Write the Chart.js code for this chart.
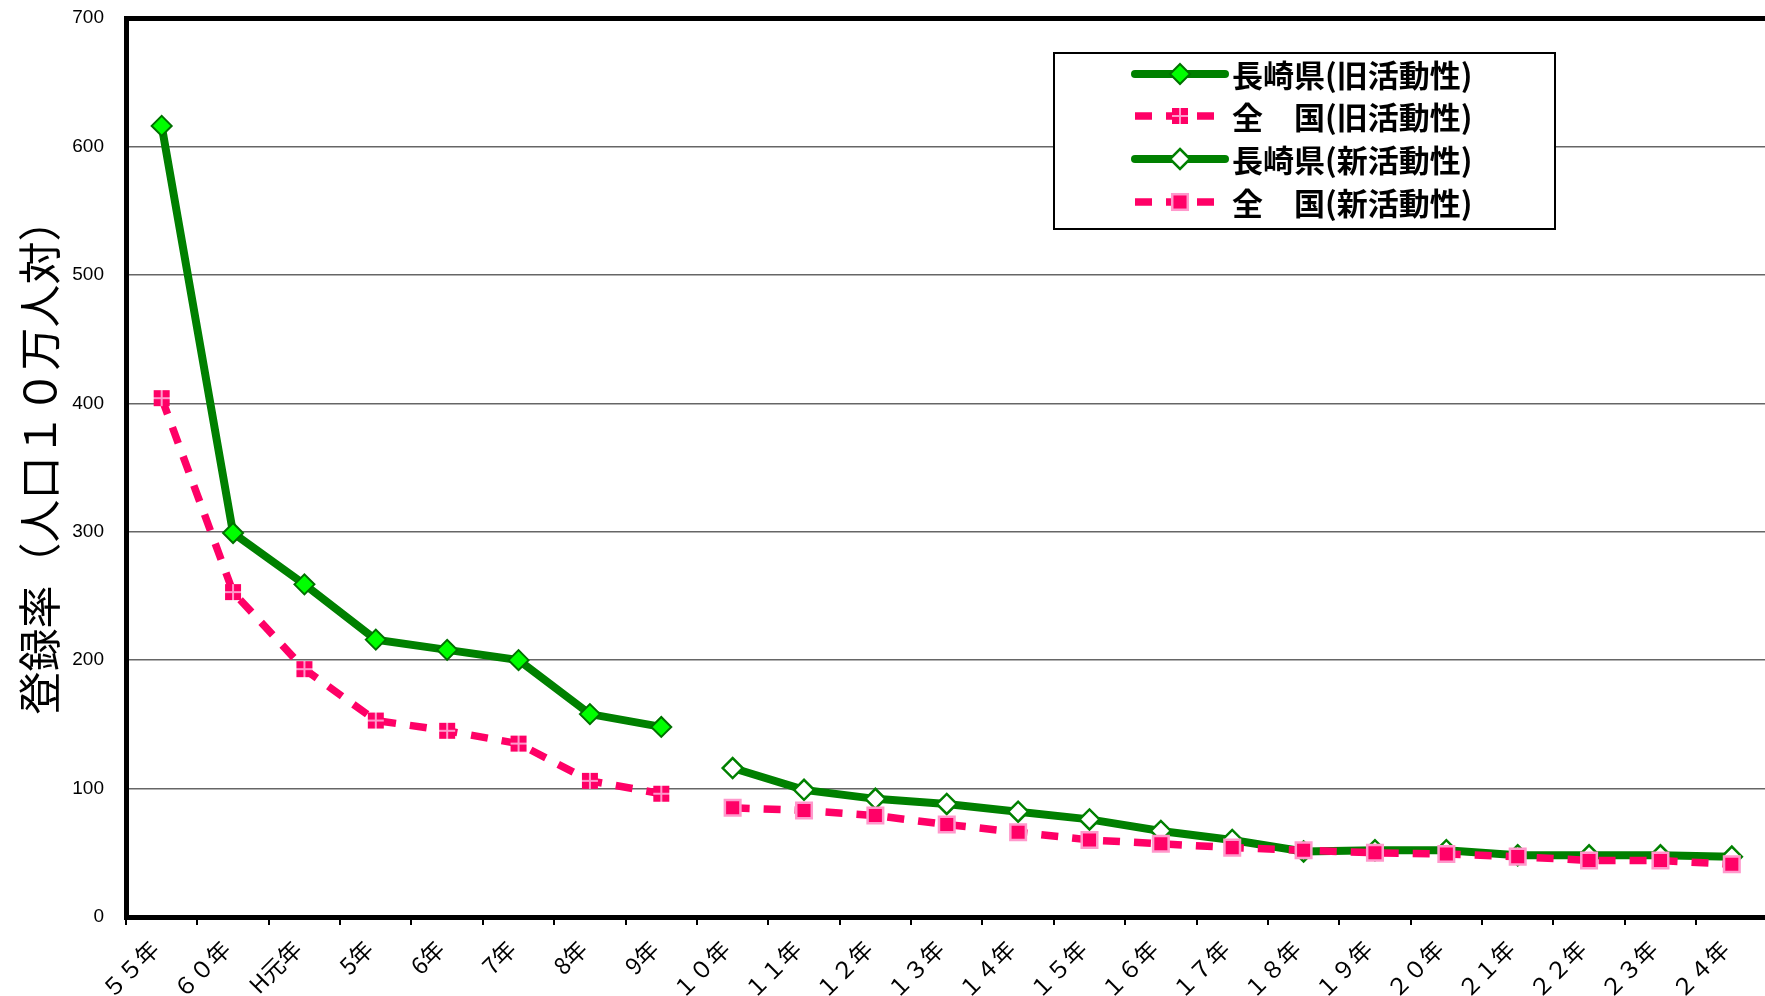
<!DOCTYPE html>
<html>
<head>
<meta charset="utf-8">
<script src="https://cdn.jsdelivr.net/npm/chart.js@4/dist/chart.umd.min.js"></script>
<style>
  html, body { margin: 0; padding: 0; background: #fff; overflow: hidden; }
  #wrap { width: 1784px; height: 996px; }
</style>
</head>
<body>
<div id="wrap"><canvas id="chart"></canvas></div>
<script>
// 年次ラベル
const years = ['５５年', '６０年', 'H元年', '5年', '6年', '7年', '8年', '9年',
  '１０年', '１１年', '１２年', '１３年', '１４年', '１５年', '１６年', '１７年',
  '１８年', '１９年', '２０年', '２１年', '２２年', '２３年', '２４年'];

// 旧活動性（55年〜9年）
const nagasakiOld = [616, 299, 259, 216, 208, 200, 158, 148,
  null, null, null, null, null, null, null, null, null, null, null, null, null, null, null];
const zenkokuOld = [404, 253, 193, 153, 145, 135, 106, 96,
  null, null, null, null, null, null, null, null, null, null, null, null, null, null, null];

// 新活動性（10年〜24年）
const nagasakiNew = [null, null, null, null, null, null, null, null,
  116, 99, 92, 88, 82, 76, 67, 60, 51, 52, 52, 48, 48, 48, 47];
const zenkokuNew = [null, null, null, null, null, null, null, null,
  85, 83, 79, 72, 66, 60, 57, 54, 52, 50, 49, 47, 44, 44, 41];

const yTicks = [0, 100, 200, 300, 400, 500, 600, 700];
const yTitle = '登録率（人口１０万人対）';

const GREEN = '#008000';
const PINK = '#ff0066';
const LIGHT_PINK = '#ff99cc';

// 田の字の四角マーカー（全国・旧）
function makeCrossSquare() {
  const c = document.createElement('canvas');
  c.width = 18; c.height = 18;
  const g = c.getContext('2d');
  g.fillStyle = PINK;
  g.fillRect(1, 1, 16, 16);
  g.fillStyle = LIGHT_PINK;
  g.fillRect(8, 1, 2, 16);
  g.fillRect(1, 8, 16, 2);
  return c;
}
const crossSquare = makeCrossSquare();

// 縦軸タイトル（縦書き回転）
const axisTitle = {
  id: 'axisTitle',
  afterDraw(chart) {
    const ctx = chart.ctx;
    const a = chart.chartArea;
    ctx.save();
    ctx.translate(40, (a.top + a.bottom) / 2 - 11);
    ctx.rotate(-Math.PI / 2);
    ctx.fillStyle = '#000';
    ctx.font = '43px "Noto Sans CJK JP"';
    ctx.textAlign = 'center';
    ctx.textBaseline = 'middle';
    ctx.fillText(yTitle, 0, 0);
    ctx.restore();
  }
};

// 凡例（枠内に手描き）
const boxLegend = {
  id: 'boxLegend',
  afterDraw(chart) {
    const ctx = chart.ctx;
    const bx = 1054, by = 53, bw = 501, bh = 176;
    ctx.save();
    ctx.fillStyle = '#fff';
    ctx.fillRect(bx, by, bw, bh);
    ctx.strokeStyle = '#000';
    ctx.lineWidth = 2;
    ctx.strokeRect(bx, by, bw, bh);

    const rows = [74, 116, 159, 202];
    const x1 = 1135, x2 = 1225, mx = 1180;
    chart.data.datasets.forEach((ds, i) => {
      const y = rows[i];
      ctx.save();
      ctx.strokeStyle = ds.borderColor;
      ctx.lineWidth = ds.borderWidth;
      ctx.lineCap = ds.borderDash ? 'butt' : 'round';
      ctx.setLineDash(ds.borderDash || []);
      ctx.beginPath();
      ctx.moveTo(x1, y);
      ctx.lineTo(x2, y);
      ctx.stroke();
      ctx.restore();

      if (ds.pointStyle === 'rectRot') {
        const r = ds.pointRadius;
        ctx.beginPath();
        ctx.moveTo(mx, y - r); ctx.lineTo(mx + r, y);
        ctx.lineTo(mx, y + r); ctx.lineTo(mx - r, y);
        ctx.closePath();
        ctx.fillStyle = ds.pointBackgroundColor;
        ctx.fill();
        ctx.lineWidth = ds.pointBorderWidth;
        ctx.strokeStyle = ds.pointBorderColor;
        ctx.stroke();
      } else if (ds.pointStyle === 'rect') {
        const s = ds.pointRadius * Math.SQRT1_2;
        ctx.fillStyle = ds.pointBackgroundColor;
        ctx.fillRect(mx - s, y - s, 2 * s, 2 * s);
        ctx.lineWidth = ds.pointBorderWidth;
        ctx.strokeStyle = ds.pointBorderColor;
        ctx.strokeRect(mx - s, y - s, 2 * s, 2 * s);
      } else {
        ctx.drawImage(ds.pointStyle, mx - 9, y - 9);
      }

      ctx.fillStyle = '#000';
      ctx.font = 'bold 31px "Noto Sans CJK JP"';
      ctx.textBaseline = 'middle';
      ctx.textAlign = 'left';
      ctx.fillText(ds.label, 1232, y + 1);
    });
    ctx.restore();
  }
};

const ctx = document.getElementById('chart').getContext('2d');
new Chart(ctx, {
  type: 'line',
  data: {
    labels: years,
    datasets: [
      {
        label: '長崎県(旧活動性)',
        data: nagasakiOld,
        borderColor: GREEN,
        borderWidth: 8,
        pointStyle: 'rectRot',
        pointRadius: 10,
        pointBackgroundColor: '#00ff00',
        pointBorderColor: '#007000',
        pointBorderWidth: 2,
        order: 1
      },
      {
        label: '全　国(旧活動性)',
        data: zenkokuOld,
        borderColor: PINK,
        borderWidth: 7.5,
        borderDash: [17, 14],
        pointStyle: crossSquare,
        pointRadius: 9,
        order: 0
      },
      {
        label: '長崎県(新活動性)',
        data: nagasakiNew,
        borderColor: GREEN,
        borderWidth: 8,
        pointStyle: 'rectRot',
        pointRadius: 10,
        pointBackgroundColor: '#ffffff',
        pointBorderColor: GREEN,
        pointBorderWidth: 2.5,
        order: 1
      },
      {
        label: '全　国(新活動性)',
        data: zenkokuNew,
        borderColor: PINK,
        borderWidth: 7.5,
        borderDash: [17, 14],
        pointStyle: 'rect',
        pointRadius: 11,
        pointBackgroundColor: PINK,
        pointBorderColor: LIGHT_PINK,
        pointBorderWidth: 2.5,
        order: 0
      }
    ]
  },
  options: {
    responsive: true,
    maintainAspectRatio: false,
    animation: false,
    spanGaps: false,
    layout: { padding: { top: 18, right: 7, left: 0, bottom: 0 } },
    plugins: {
      legend: { display: false },
      tooltip: { enabled: false }
    },
    scales: {
      x: {
        offset: true,
        afterFit: (scale) => {
          scale.height = 79;
          scale.paddingLeft = 0; scale.paddingRight = 0;
          scale.paddingTop = 0; scale.paddingBottom = 0;
        },
        border: { color: '#000', width: 5 },
        grid: {
          offset: true,
          drawOnChartArea: false,
          drawTicks: true,
          tickLength: 8,
          color: '#000',
          lineWidth: 2
        },
        ticks: {
          autoSkip: false,
          maxRotation: 45,
          minRotation: 45,
          padding: 10,
          labelOffset: -7,
          color: '#000',
          font: { family: '"Noto Sans CJK JP"', size: 23 }
        }
      },
      y: {
        min: 0,
        max: 700,
        afterFit: (scale) => {
          scale.width = 126;
          scale.paddingTop = 0; scale.paddingBottom = 0;
          scale.paddingLeft = 0; scale.paddingRight = 0;
        },
        afterBuildTicks: (scale) => { scale.ticks = yTicks.map(v => ({ value: v })); },
        border: { color: '#000', width: 5 },
        grid: {
          drawTicks: false,
          color: (c) => c.tick && c.tick.value === 700 ? '#000' : '#666',
          lineWidth: (c) => c.tick && c.tick.value === 700 ? 5 : 1.5
        },
        ticks: {
          padding: 22,
          color: '#000',
          font: { family: '"Liberation Sans", Arial', size: 19 }
        }
      }
    }
  },
  plugins: [boxLegend, axisTitle]
});
</script>
</body>
</html>
